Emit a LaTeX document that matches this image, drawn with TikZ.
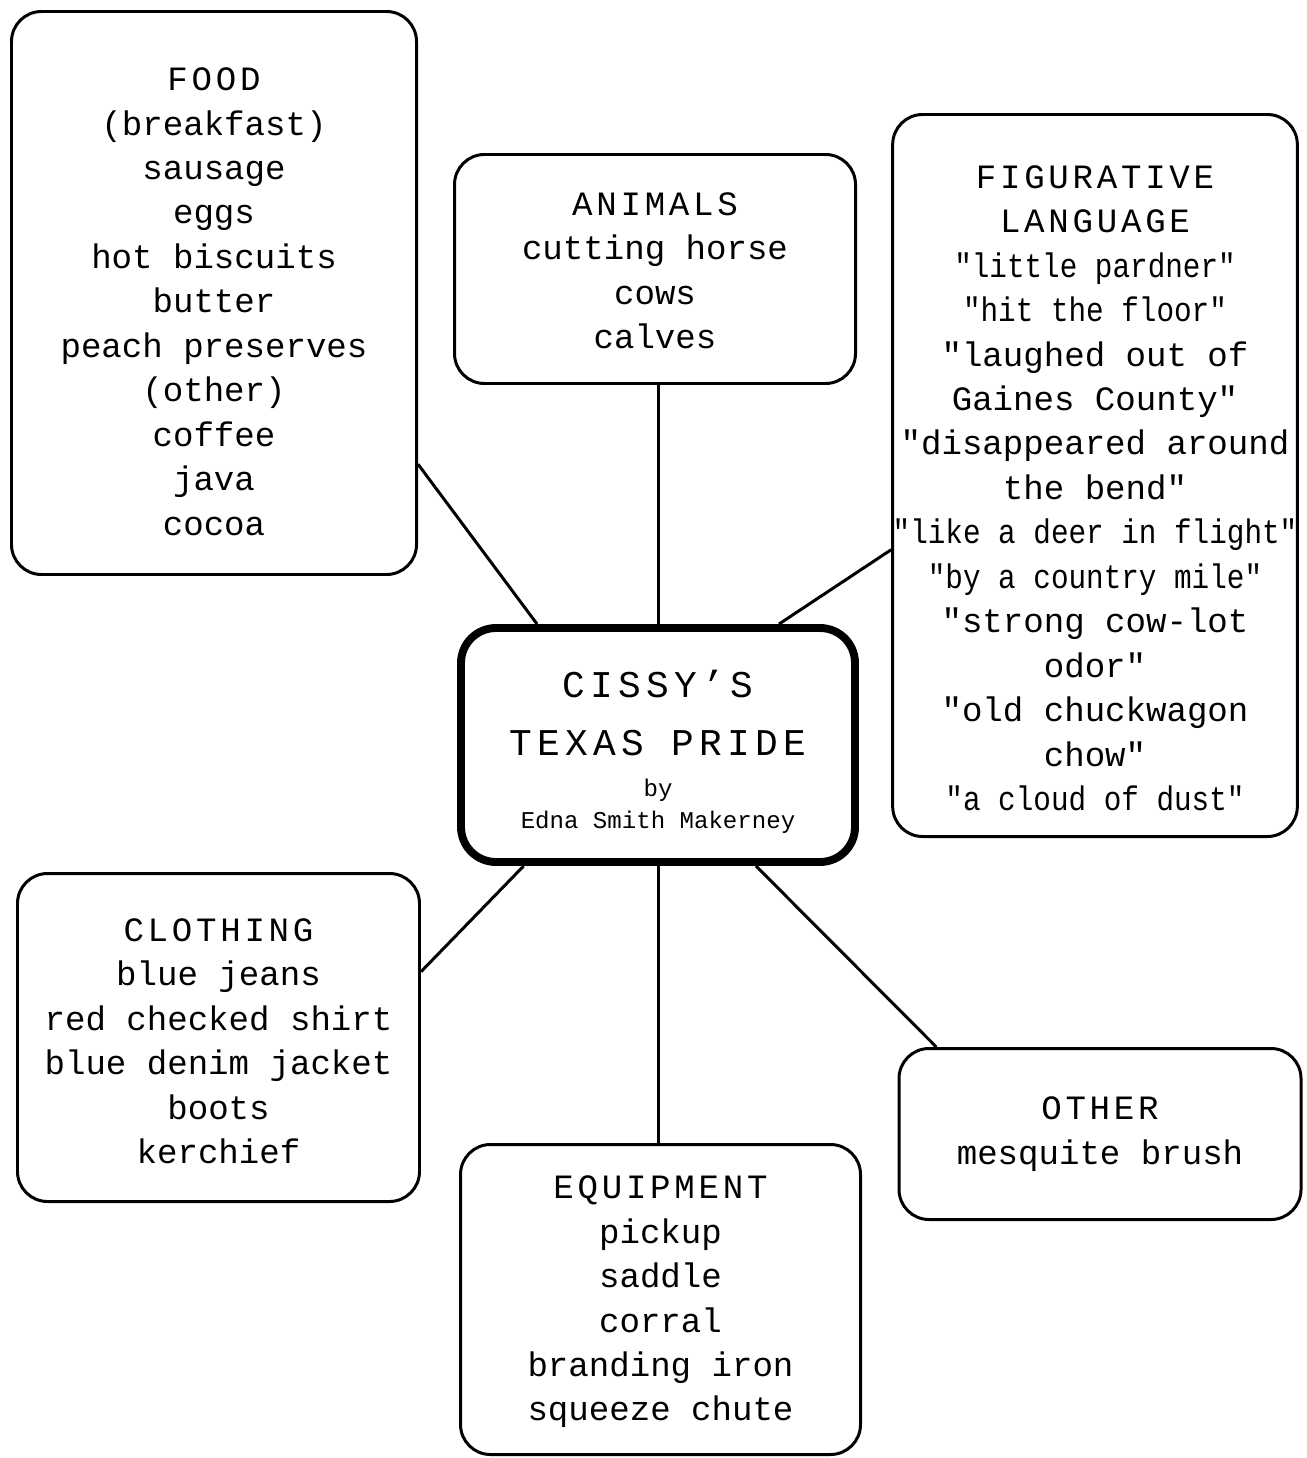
\documentclass[tikz,border=0pt]{standalone}
\usepackage{fontspec}
\setmainfont{Liberation Mono}[Ligatures=TeXOff]
\newfontfamily\headfam[LetterSpace=11,Ligatures=TeXOff]{Liberation Mono}
\newfontfamily\titlefam[LetterSpace=14,Ligatures=TeXOff]{Liberation Mono}
\newfontfamily\narrowfam[FakeStretch=0.86,Ligatures=TeXOff]{Liberation Mono}
\newcommand\bodysize{\fontsize{19.4}{25.3}\selectfont}
\newcommand\titlesize{\fontsize{21.5}{33}\selectfont}
\newcommand\bysize{\fontsize{13.7}{18}\selectfont}
% extra room above the first line of a box
\newcommand\headroom[1]{\rule{0pt}{\dimexpr\fontcharht\font`O+#1\relax}}

\begin{document}
\begin{tikzpicture}[
        box/.style={draw, line width=1.7pt, rounded corners=0.6cm, align=center, inner sep=0pt, font=\bodysize},
        hubbox/.style={box, line width=4.5pt, rounded corners=0.7cm, font=\titlesize},
        link/.style={line width=1.7pt}
    ]
        \useasboundingbox (0,0) rectangle (26.12,-29.16);

        % centre
        \node[hubbox, minimum width=7.88cm, minimum height=4.68cm] (hub) at (13.16,-14.90)
            {{\titlefam\headroom{9pt}CISSY’S}\\{\titlefam TEXAS PRIDE}\\[-9.7pt]{\bysize by}\\[-14.8pt]{\bysize Edna Smith Makerney}};

        % topics
        \node[box, minimum width=8.1cm, minimum height=11.26cm] (food) at (4.28,-5.86)
            {{\headfam\headroom{10pt}FOOD}\\(breakfast)\\sausage\\eggs\\hot biscuits\\butter\\peach preserves\\(other)\\coffee\\java\\cocoa};
        \node[box, minimum width=8.02cm, minimum height=4.58cm] (animals) at (13.10,-5.38)
            {{\headfam\headroom{2.3pt}ANIMALS}\\cutting horse\\cows\\calves};
        \node[box, minimum width=8.06cm, minimum height=14.44cm] (fig) at (21.90,-9.51)
            {{\headfam\headroom{14.7pt}FIGURATIVE}\\{\headfam LANGUAGE}\\{\narrowfam "little pardner"}\\{\narrowfam "hit the floor"}\\"laughed out of\\Gaines County"\\"disappeared around\\the bend"\\{\narrowfam "like a deer in flight"}\\{\narrowfam "by a country mile"}\\"strong cow-lot\\odor"\\"old chuckwagon\\chow"\\{\narrowfam "a cloud of dust"}};
        \node[box, minimum width=8.04cm, minimum height=6.56cm] (clothing) at (4.37,-20.75)
            {{\headfam\headroom{4.5pt}CLOTHING}\\blue jeans\\red checked shirt\\blue denim jacket\\boots\\kerchief};
        \node[box, minimum width=8.0cm, minimum height=6.2cm] (equip) at (13.21,-25.99)
            {{\headfam\headroom{3pt}EQUIPMENT}\\pickup\\saddle\\corral\\branding iron\\squeeze chute};
        \node[box, minimum width=8.04cm, minimum height=3.42cm] (other) at (22.00,-22.68)
            {{\headfam OTHER}\\mesquite brush};

        % spokes
        \draw[link] (food.-40) -- (hub.135);
        \draw[link] (hub.north) -- (hub.north |- animals.south);
        \draw[link] (fig.200) -- (hub.45);
        \draw[link] (hub.222) -- (clothing.18);
        \draw[link] (hub.south) -- (hub.south |- equip.north);
        \draw[link] (hub.-51) -- (other.152);
\end{tikzpicture}
\end{document}
